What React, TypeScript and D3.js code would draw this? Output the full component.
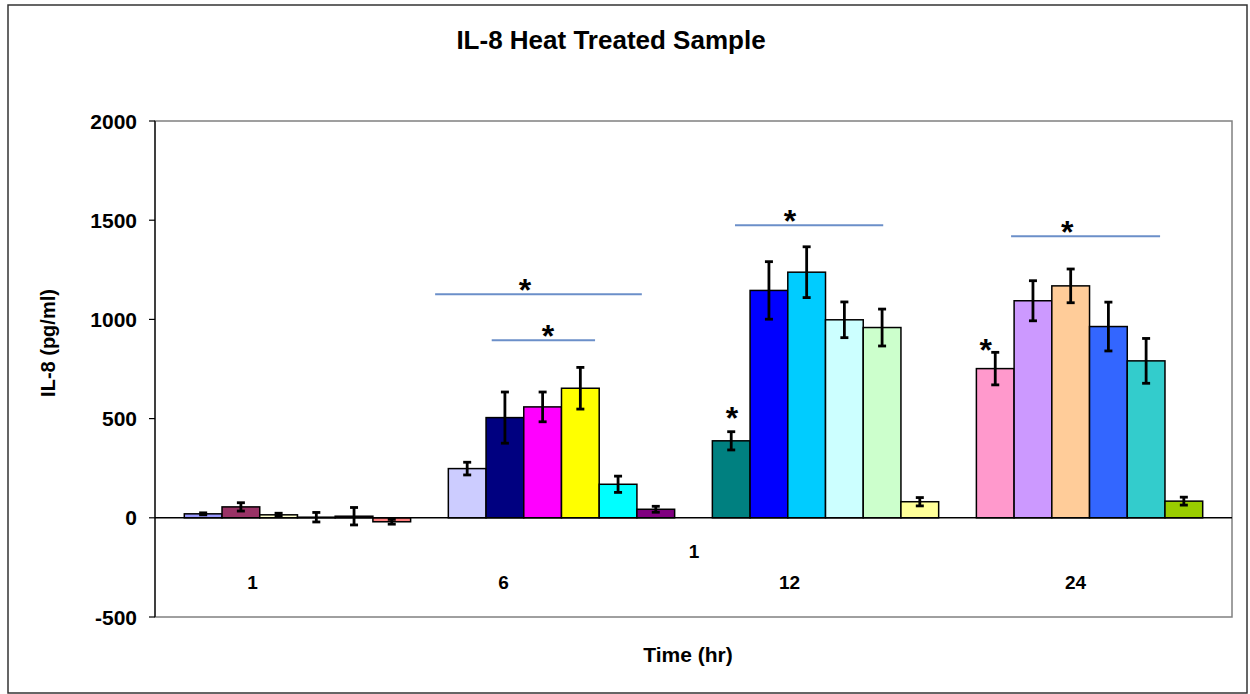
import React from "react";
import * as d3 from "d3";

// time points (hr) and the six samples measured at each one
const timePoints = ["1", "6", "12", "24"];
const sampleIdx = [0, 1, 2, 3, 4, 5];

// IL-8 means (pg/ml), one array per time point
const mean1h = [20, 55, 15, 3, 8, -20];
const mean6h = [248, 505, 559, 653, 169, 43];
const mean12h = [388, 1146, 1238, 998, 959, 81];
const mean24h = [752, 1094, 1169, 964, 791, 84];

// error (+/-)
const err1h = [5, 21, 8, 24, 44, 12];
const err6h = [32, 129, 75, 105, 41, 15];
const err12h = [46, 145, 128, 90, 93, 21];
const err24h = [82, 101, 85, 123, 113, 20];

const yTicks = [-500, 0, 500, 1000, 1500, 2000];

// significance bars: group, from/to in bar widths from group start, level
const sigLines = [
  { group: "6", from: -0.35, to: 5.13, value: 1127, star: 2.03 },
  { group: "6", from: 1.15, to: 3.89, value: 895, star: 2.64 },
  { group: "12", from: 0.6, to: 4.53, value: 1475, star: 2.06 },
  { group: "24", from: 0.92, to: 4.87, value: 1419, star: 2.41 },
];
// single stars over bars
const barStars = [
  { group: "12", pos: 0.52, value: 541 },
  { group: "24", pos: 0.25, value: 885 },
];

// Excel 2003 series palette, in order (gap series skipped)
const palette = [
  ["#9999FF", "#993366", "#FFFFCC", "#CCFFFF", "#660066", "#FF8080"],
  ["#CCCCFF", "#000080", "#FF00FF", "#FFFF00", "#00FFFF", "#800080"],
  ["#008080", "#0000FF", "#00CCFF", "#CCFFFF", "#CCFFCC", "#FFFF99"],
  ["#FF99CC", "#CC99FF", "#FFCC99", "#3366FF", "#33CCCC", "#99CC00"],
];

const means = [mean1h, mean6h, mean12h, mean24h];
const errs = [err1h, err6h, err12h, err24h];

// the time labels were hand-placed text boxes in the original
const labelNudge = [-45, -58, -36, -14];

const W = 1250;
const H = 694;
const plot = { left: 155, right: 1232, top: 121, bottom: 617 };
const font = "'Liberation Sans', Arial, sans-serif";
const narrow = "'Liberation Sans Narrow', 'Arial Narrow', 'Liberation Sans', sans-serif";

export default function App() {
  const x0 = d3
    .scaleBand<string>()
    .domain(timePoints)
    .range([plot.left, plot.right])
    .paddingInner(1 / 7)
    .paddingOuter(0.111);
  const x1 = d3
    .scaleBand<number>()
    .domain(sampleIdx)
    .range([0, x0.bandwidth()]);
  const y = d3.scaleLinear().domain([-500, 2000]).range([plot.bottom, plot.top]);
  const bw = x1.bandwidth();
  const slotX = (g: string, u: number) => (x0(g) as number) + u * bw;

  return (
    <svg
      width={W}
      height={H}
      style={{ position: "absolute", left: 0, top: 0, background: "#fff" }}
    >
      <rect x={8} y={5} width={1239} height={688} fill="#fff" stroke="#333" strokeWidth={1.5} />

      <text x={611} y={49} textAnchor="middle" fontFamily={font} fontWeight="bold" fontSize={26}>
        IL-8 Heat Treated Sample
      </text>

      {/* plot frame */}
      <rect
        x={plot.left}
        y={plot.top}
        width={plot.right - plot.left}
        height={plot.bottom - plot.top}
        fill="none"
        stroke="#808080"
        strokeWidth={1.5}
      />
      <line x1={plot.left} x2={plot.left} y1={plot.top} y2={plot.bottom} stroke="#000" strokeWidth={1.2} />

      {yTicks.map((t) => (
        <g key={t}>
          <line x1={plot.left - 6} x2={plot.left} y1={y(t)} y2={y(t)} stroke="#000" strokeWidth={1.2} />
          <text
            x={137}
            y={y(t) + 7.5}
            textAnchor="end"
            fontFamily={font}
            fontWeight="bold"
            fontSize={21}
          >
            {t}
          </text>
        </g>
      ))}

      {/* bars */}
      {timePoints.map((g, gi) => (
        <g key={g} transform={`translate(${x0(g)},0)`}>
          {sampleIdx.map((i) => {
            const v = means[gi][i];
            return (
              <rect
                key={i}
                x={x1(i)}
                y={Math.min(y(v), y(0))}
                width={bw}
                height={Math.abs(y(v) - y(0))}
                fill={palette[gi][i]}
                stroke="#000"
                strokeWidth={1.5}
              />
            );
          })}
        </g>
      ))}

      {/* zero line */}
      <line x1={plot.left} x2={plot.right} y1={y(0)} y2={y(0)} stroke="#000" strokeWidth={1.5} />

      {/* error bars */}
      {timePoints.map((g, gi) =>
        sampleIdx.map((i) => {
          const cx = (x0(g) as number) + (x1(i) as number) + bw / 2;
          const v = means[gi][i];
          const e = errs[gi][i];
          return (
            <g key={g + "-" + i} stroke="#000" strokeWidth={2.8}>
              <line x1={cx} x2={cx} y1={y(v + e)} y2={y(v - e)} />
              <line x1={cx - 4} x2={cx + 4} y1={y(v + e)} y2={y(v + e)} />
              <line x1={cx - 4} x2={cx + 4} y1={y(v - e)} y2={y(v - e)} />
            </g>
          );
        })
      )}

      {/* significance */}
      {sigLines.map((s, k) => (
        <g key={k}>
          <line
            x1={slotX(s.group, s.from)}
            x2={slotX(s.group, s.to)}
            y1={y(s.value)}
            y2={y(s.value)}
            stroke="#6B8FC9"
            strokeWidth={2}
          />
          <text
            x={slotX(s.group, s.star)}
            y={y(s.value) + 7}
            textAnchor="middle"
            fontFamily={font}
            fontWeight="bold"
            fontSize={32}
          >
            *
          </text>
        </g>
      ))}
      {barStars.map((s, k) => (
        <text
          key={k}
          x={slotX(s.group, s.pos)}
          y={y(s.value) + 19}
          textAnchor="middle"
          fontFamily={font}
          fontWeight="bold"
          fontSize={32}
        >
          *
        </text>
      ))}

      {/* category labels */}
      <text x={694} y={558} textAnchor="middle" fontFamily={narrow} fontWeight="bold" fontSize={19}>
        1
      </text>
      {timePoints.map((g, gi) => (
        <text
          key={g}
          x={(x0(g) as number) + x0.bandwidth() / 2 + labelNudge[gi]}
          y={589}
          textAnchor="middle"
          fontFamily={narrow}
          fontWeight="bold"
          fontSize={19}
        >
          {g}
        </text>
      ))}

      <text x={688} y={662} textAnchor="middle" fontFamily={font} fontWeight="bold" fontSize={21}>
        Time (hr)
      </text>
      <text
        transform={`translate(55,343) rotate(-90)`}
        textAnchor="middle"
        fontFamily={font}
        fontWeight="bold"
        fontSize={20}
      >
        IL-8 (pg/ml)
      </text>
    </svg>
  );
}
